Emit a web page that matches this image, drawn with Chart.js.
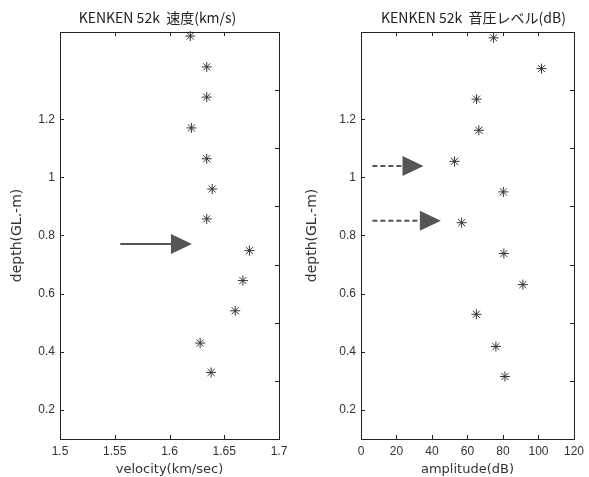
<!DOCTYPE html>
<html>
<head>
<meta charset="utf-8">
<script src="https://cdn.jsdelivr.net/npm/chart.js@4.4.1/dist/chart.umd.min.js"></script>
<style>
html, body { margin: 0; padding: 0; background: #fff; }
#wrap { position: relative; width: 589px; height: 477px; }
.panel { position: absolute; top: 0; height: 477px; }
</style>
</head>
<body>
<div id="wrap">
    <div class="panel" style="left:0;width:295px"><canvas id="velChart"></canvas></div>
    <div class="panel" style="left:295px;width:294px"><canvas id="ampChart"></canvas></div>
</div>
<script>
// 左: 速度
const velDepth = [1.486, 1.380, 1.276, 1.170, 1.064, 0.960, 0.857, 0.748, 0.645, 0.541, 0.430, 0.329];
const velocity = [1.619, 1.634, 1.634, 1.620, 1.634, 1.639, 1.634, 1.673, 1.667, 1.660, 1.628, 1.638];
const velTicksX = [1.5, 1.55, 1.6, 1.65, 1.7];

// 右: 音圧レベル
const ampDepth = [1.480, 1.374, 1.269, 1.162, 1.055, 0.950, 0.844, 0.738, 0.631, 0.529, 0.418, 0.315];
const amplitude = [74.7, 101.7, 65.1, 66.4, 52.7, 80.2, 56.7, 80.5, 91.2, 65.0, 76.0, 81.1];
const ampTicksX = [0, 20, 40, 60, 80, 100, 120];

const depthTicks = [0.2, 0.4, 0.6, 0.8, 1, 1.2];
const rightTicks = [0.3, 0.5, 0.7, 0.9, 1.1, 1.3];

// 矢印 (from -> to, depth)
const velArrows = [{ from: 1.555, to: 1.6205, depth: 0.771, dashed: false }];
const ampArrows = [
    { from: 6.4, to: 35.2, depth: 1.039, dashed: true },
    { from: 6.4, to: 45.0, depth: 0.851, dashed: true }
];

const INK = '#333';

// 枠, 内向き目盛, 矢印, タイトル
const framePlugin = {
    id: 'frame',
    afterDatasetsDraw(chart, args, opts) {
        const { ctx, chartArea: a, scales: { x, y } } = chart;
        ctx.save();
        ctx.strokeStyle = '#222';
        ctx.lineWidth = 1;
        ctx.strokeRect(a.left + 0.5, a.top + 0.5, a.right - a.left, a.bottom - a.top);

        ctx.beginPath();
        x.ticks.forEach(t => {
            const px = Math.round(x.getPixelForValue(t.value)) + 0.5;
            ctx.moveTo(px, a.bottom); ctx.lineTo(px, a.bottom - 4);
            ctx.moveTo(px, a.top); ctx.lineTo(px, a.top + 4);
        });
        y.ticks.forEach(t => {
            const py = Math.round(y.getPixelForValue(t.value)) + 0.5;
            ctx.moveTo(a.left, py); ctx.lineTo(a.left + 4, py);
        });
        rightTicks.forEach(v => {
            const py = Math.round(y.getPixelForValue(v)) + 0.5;
            ctx.moveTo(a.right, py); ctx.lineTo(a.right - 4, py);
        });
        ctx.stroke();

        (opts.arrows || []).forEach(ar => {
            const x0 = x.getPixelForValue(ar.from);
            const x1 = x.getPixelForValue(ar.to);
            const py = y.getPixelForValue(ar.depth);
            const head = 21, half = 10;
            ctx.strokeStyle = '#555';
            ctx.lineWidth = 2;
            ctx.setLineDash(ar.dashed ? [5, 3] : []);
            ctx.beginPath();
            ctx.moveTo(x0, py); ctx.lineTo(x1 - head, py);
            ctx.stroke();
            ctx.setLineDash([]);
            ctx.fillStyle = '#555';
            ctx.beginPath();
            ctx.moveTo(x1, py);
            ctx.lineTo(x1 - head, py - half);
            ctx.lineTo(x1 - head, py + half);
            ctx.closePath();
            ctx.fill();
        });

        if (opts.text) {
            ctx.fillStyle = '#222';
            ctx.font = '14px "Noto Sans CJK JP"';
            ctx.textAlign = 'center';
            ctx.textBaseline = 'middle';
            ctx.fillText(opts.text, (a.left + a.right) / 2 + (opts.shift || 0), 18);
        }
        ctx.restore();
    }
};

function fixedTicks(list) {
    return axis => { axis.ticks = list.map(v => ({ value: v })); };
}

function makeChart(id, xs, ys, xMin, xMax, xTicks, xTitle, yWidth, padRight, title, shift, arrows) {
    return new Chart(document.getElementById(id), {
        type: 'scatter',
        data: {
            datasets: [{
                data: xs.map((v, i) => ({ x: v, y: ys[i] })),
                pointStyle: 'star',
                pointRadius: 5,
                pointBorderWidth: 1,
                borderColor: INK,
                backgroundColor: INK,
                clip: false
            }]
        },
        options: {
            responsive: true, maintainAspectRatio: false, animation: false,
            layout: { padding: { top: 32, right: padRight, bottom: 0, left: 0 } },
            scales: {
                x: {
                    type: 'linear', min: xMin, max: xMax,
                    afterBuildTicks: fixedTicks(xTicks),
                    afterFit: s => { s.height = 38; },
                    grid: { display: false, drawTicks: false },
                    border: { display: false },
                    ticks: { color: INK, padding: 5, font: { family: 'Liberation Sans', size: 12 },
                             callback: v => String(+v.toFixed(2)) },
                    title: { display: true, text: xTitle, color: INK, padding: { top: 0, bottom: 0 },
                             font: { family: 'DejaVu Sans', size: 13 } }
                },
                y: {
                    type: 'linear', min: 0.1, max: 1.5,
                    afterBuildTicks: fixedTicks(depthTicks),
                    afterFit: s => { s.width = yWidth; },
                    grid: { display: false, drawTicks: false },
                    border: { display: false },
                    ticks: { color: INK, padding: 5, font: { family: 'Liberation Sans', size: 12 },
                             callback: v => String(+v.toFixed(2)) },
                    title: { display: true, text: 'depth(GL.-m)', color: INK, padding: { top: 9, bottom: 0 },
                             font: { family: 'DejaVu Sans', size: 14 } }
                }
            },
            plugins: {
                legend: { display: false },
                tooltip: { enabled: false },
                frame: { text: title, shift: shift, arrows: arrows }
            }
        },
        plugins: [framePlugin]
    });
}

makeChart('velChart', velocity, velDepth, 1.5, 1.7, velTicksX, 'velocity(km/sec)',
          60, 16, 'KENKEN 52k  速度(km/s)', -12, velArrows);
makeChart('ampChart', amplitude, ampDepth, 0, 120, ampTicksX, 'amplitude(dB)',
          66, 10, 'KENKEN 52k  音圧レベル(dB)', 6, ampArrows);
</script>
</body>
</html>
